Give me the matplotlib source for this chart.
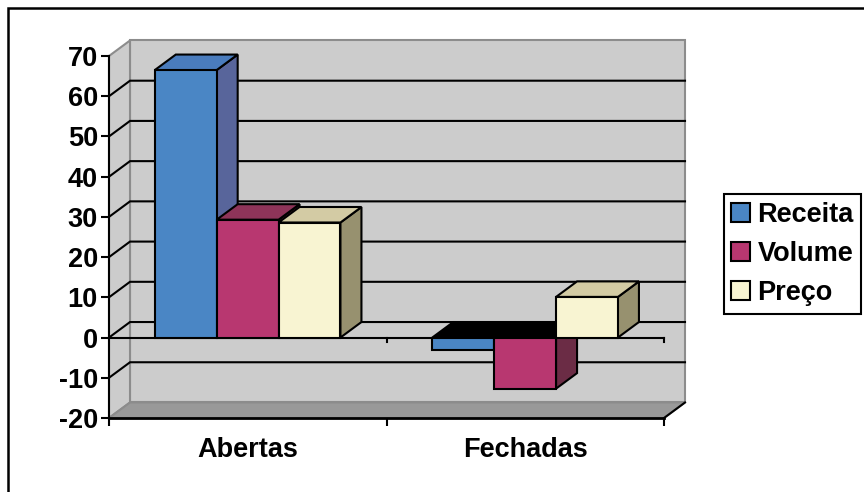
import matplotlib
matplotlib.use('Agg')
import matplotlib.pyplot as plt
from matplotlib.lines import Line2D
from matplotlib.patches import Patch, Polygon

plt.rcParams['font.family'] = ['Liberation Sans', 'DejaVu Sans']
plt.rcParams['font.weight'] = 'bold'
plt.rcParams['axes.unicode_minus'] = False

# Data
categories = ['Abertas', 'Fechadas']
receita = [66.5, -3.2]
volume = [29.3, -12.7]
preco = [28.6, 10.1]
y_ticks = [-20, -10, 0, 10, 20, 30, 40, 50, 60, 70]

names = ['Receita', 'Volume', 'Preço']
front_colors = ['#4a86c5', '#b83770', '#f8f4d2']
top_colors = ['#4a7cbd', '#8e3459', '#d3cba4']
side_colors = ['#58659b', '#6b2c45', '#97916f']

W, H = 864, 492
BAR_W = 0.223
GROUP_START = 0.165
DX = 0.0757  # depth of the box in x units
DY = 3.86    # depth of the box in y units
YMIN, YMAX = -20, 70

fig = plt.figure(figsize=(W / 100, H / 100), dpi=100)
# Outer frame: only the top and left edges are inside the canvas
fig.add_artist(Line2D([8 / W, 8 / W, 1], [0, 1 - 8 / H, 1 - 8 / H], transform=fig.transFigure,
                      color='black', linewidth=1.8, solid_joinstyle='miter'))
ax = fig.add_axes([109 / W, 1 - 418 / H, 555 / W, 362 / H])
ax.set_xlim(0, 2)
ax.set_ylim(YMIN, YMAX)
ax.patch.set_visible(False)
for s in ['top', 'right', 'bottom']:
    ax.spines[s].set_visible(False)
ax.spines['left'].set_linewidth(1.5)
ax.spines['left'].set_zorder(6)


def face(points, fc, ec='black', lw=1.5, z=3):
    ax.add_patch(Polygon(points, closed=True, facecolor=fc, edgecolor=ec, linewidth=lw,
                         joinstyle='miter', clip_on=False, zorder=z))


# Walls and floor
wall_top = YMAX + DY
face([(DX, YMIN + DY), (2 + DX, YMIN + DY), (2 + DX, wall_top), (DX, wall_top)], '#cccccc', '#8c8c8c', 1.5, 1)
face([(0, YMIN), (DX, YMIN + DY), (DX, wall_top), (0, YMAX)], '#cccccc', '#8c8c8c', 1.5, 1)
face([(0, YMIN), (2, YMIN), (2 + DX, YMIN + DY), (DX, YMIN + DY)], '#999999', '#8c8c8c', 1.5, 1)
ax.plot([2, 2 + DX], [YMIN, YMIN + DY], color='black', lw=1.5, clip_on=False, zorder=2)

# Gridlines across the side wall and back wall
for v in y_ticks[1:-1]:
    ax.plot([0, DX, 2 + DX], [v, v + DY, v + DY], color='black', lw=1.5, clip_on=False, zorder=2,
            solid_joinstyle='miter')

# Bars drawn back to front: each box is a front face, a top and a side
series = [receita, volume, preco]
for g in range(len(categories)):
    for i, values in enumerate(series):
        v = values[g]
        x0 = g + GROUP_START + i * BAR_W
        x1 = x0 + BAR_W
        hi = max(v, 0)
        lo = min(v, 0)
        top_fc = 'black' if v < 0 else top_colors[i]
        z = 3 + i * 0.1
        face([(x1, lo), (x1 + DX, lo + DY), (x1 + DX, hi + DY), (x1, hi)], side_colors[i], z=z)
        face([(x0, hi), (x1, hi), (x1 + DX, hi + DY), (x0 + DX, hi + DY)], top_fc, z=z)
        ax.bar(x0, hi - lo, BAR_W, bottom=lo, align='edge', color=front_colors[i], edgecolor='black',
               linewidth=1.5, clip_on=False, zorder=z + 0.05)

# Bottom axis and the zero line
ax.plot([0, 2], [YMIN, YMIN], color='black', lw=2, clip_on=False, zorder=5)
ax.plot([0, 2], [0, 0], color='black', lw=1.5, clip_on=False, zorder=2.5)
ax.plot([1, 1], [0, -1.2], color='black', lw=1.5, clip_on=False, zorder=2.5)
ax.plot([2, 2], [0, -1.2], color='black', lw=1.5, clip_on=False, zorder=2.5)

ax.set_yticks(y_ticks)
ax.set_xticks([0, 1, 2])
ax.set_xticklabels([])
ax.tick_params(axis='y', length=6, width=1.5, labelsize=19.5, pad=2)
ax.tick_params(axis='x', length=6, width=1.5)
ax.set_xticks([0.5, 1.5], labels=categories, minor=True)
ax.tick_params(axis='x', which='minor', length=0, labelsize=19.5, pad=14)

# Legend
handles = [Patch(facecolor=c, edgecolor='black', linewidth=1.5) for c in front_colors]
leg = fig.legend(handles, names, loc='center', bbox_to_anchor=(792.5 / W, 1 - 254 / H), fontsize=19.5,
                 fancybox=False, edgecolor='black', framealpha=1, handlelength=0.7, handleheight=0.7,
                 handletextpad=0.26, labelspacing=0.49, borderpad=0.28, borderaxespad=0)
leg.get_frame().set_linewidth(1.5)

fig.savefig('out.png', dpi=100)
